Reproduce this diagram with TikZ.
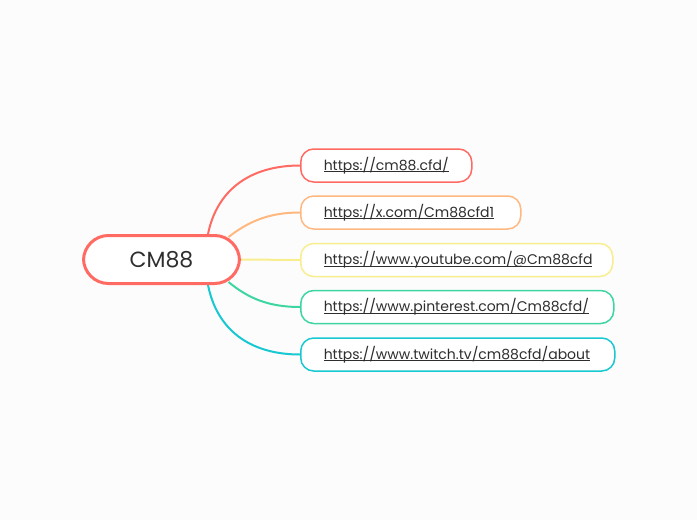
\documentclass[tikz,border=0pt]{standalone}
\usepackage{fontspec}
\setmainfont{Poppins}
\usetikzlibrary{calc,backgrounds}
\definecolor{bg}{HTML}{FCFCFC}
\definecolor{txt}{HTML}{2E2E2E}
\definecolor{cred}{HTML}{FF6B63}
\definecolor{corange}{HTML}{FFB980}
\definecolor{cyellow}{HTML}{F8EE8E}
\definecolor{cgreen}{HTML}{3DD6A0}
\definecolor{ccyan}{HTML}{18C8D2}
\tikzset{
  root/.style={draw=cred, line width=3pt, fill=white, rounded corners=25pt,
    minimum width=156pt, minimum height=48pt, inner sep=0pt,
    font=\fontsize{22}{24}\selectfont, text=txt},
  leaf/.style={draw=#1, line width=1.5pt, fill=white, rounded corners=13pt,
    minimum height=33pt, inner xsep=0pt, inner ysep=0pt, anchor=west,
    align=left, font=\fontsize{14}{16}\selectfont, text=txt},
  link/.style={draw=#1, line width=2pt},
}
\newcommand{\ul}[1]{\leavevmode\hspace*{23pt}\setbox0\hbox{#1}\rlap{\rule[-2pt]{\wd0}{0.8pt}}\box0}
\begin{document}
\begin{tikzpicture}[x=1pt,y=-1pt]
\useasboundingbox (0,0) rectangle (697,520);
\node[root] (c) at (161.5,259.5) {CM88};
\node[leaf=cred, minimum width=171pt, text width=171pt] (l1) at (300,165.5) {\ul{https://cm88.cfd/}};
\node[leaf=corange, minimum width=220pt, text width=220pt] (l2) at (300,212.5) {\ul{https://x.com/Cm88cfd1}};
\node[leaf=cyellow, minimum width=312pt, text width=312pt] (l3) at (300,260) {\ul{https://www.youtube.com/@Cm88cfd}};
\node[leaf=cgreen, minimum width=313pt, text width=313pt] (l4) at (300,307) {\ul{https://www.pinterest.com/Cm88cfd/}};
\node[leaf=ccyan, minimum width=314pt, text width=314pt] (l5) at (300,354.5) {\ul{https://www.twitch.tv/cm88cfd/about}};
\path
  coordinate (s1) at ([xshift=46.5pt]c.north)
  coordinate (s2) at ([xshift=67pt,yshift=-3pt]c.north)
  coordinate (s4) at ([xshift=67pt,yshift=3pt]c.south)
  coordinate (s5) at ([xshift=46.5pt]c.south);
\begin{scope}[on background layer]
\fill[bg] (0,0) rectangle (697,520);
\draw[link=cred] (s1) .. controls (217,190) and (250,165.5) .. (l1.west);
\draw[link=corange] (s2) .. controls (248,222) and (268,212.5) .. (l2.west);
\draw[link=cyellow] (c.east) -- (l3.west);
\draw[link=cgreen] (s4) .. controls (248,298) and (268,307) .. (l4.west);
\draw[link=ccyan] (s5) .. controls (217,330) and (250,354.5) .. (l5.west);
\end{scope}
\end{tikzpicture}
\end{document}
